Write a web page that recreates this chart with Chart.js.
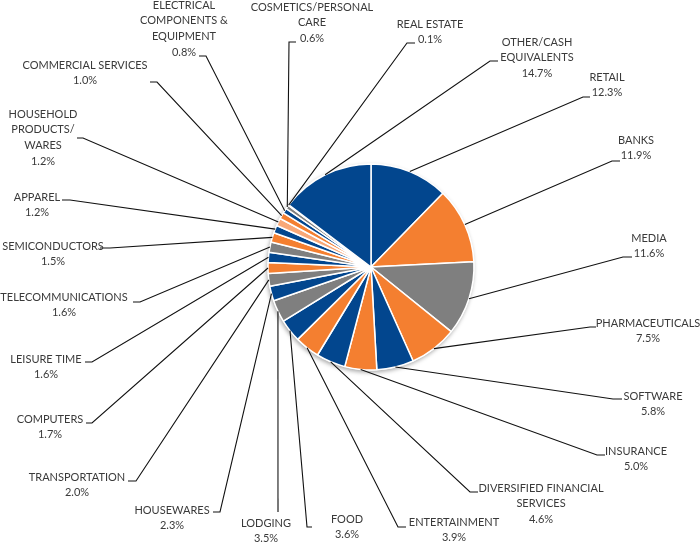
<!DOCTYPE html>
<html><head><meta charset="utf-8">
<script src="https://cdn.jsdelivr.net/npm/chart.js@4/dist/chart.umd.min.js"></script>
<style>html,body{margin:0;padding:0;background:#fff;}canvas{display:block;}</style>
</head><body>
<canvas id="c" width="700" height="543"></canvas>
<script>
// Categories in clockwise order starting at 12 o'clock (multi-line labels as arrays)
const categories = [
  'RETAIL', 'BANKS', 'MEDIA', 'PHARMACEUTICALS', 'SOFTWARE', 'INSURANCE',
  ['DIVERSIFIED FINANCIAL', 'SERVICES'], 'ENTERTAINMENT', 'FOOD', 'LODGING',
  'HOUSEWARES', 'TRANSPORTATION', 'COMPUTERS', 'LEISURE TIME', 'TELECOMMUNICATIONS',
  'SEMICONDUCTORS', 'APPAREL', ['HOUSEHOLD', 'PRODUCTS/', 'WARES'], 'COMMERCIAL SERVICES',
  ['ELECTRICAL', 'COMPONENTS &', 'EQUIPMENT'], ['COSMETICS/PERSONAL', 'CARE'], 'REAL ESTATE',
  ['OTHER/CASH', 'EQUIVALENTS']
];
const percentages = [
  12.3, 11.9, 11.6, 7.5, 5.8, 5.0,
  4.6, 3.9, 3.6, 3.5,
  2.3, 2.0, 1.7, 1.6, 1.6,
  1.5, 1.2, 1.2, 1.0,
  0.8, 0.6, 0.1,
  14.7
];
const valueLabels = percentages.map(v => v.toFixed(1) + '%');

const BLUE = '#02468e', ORANGE = '#f47f30', GRAY = '#7f7f7f', LIGHT = '#f8a878';
const sliceColors = [
  BLUE, ORANGE, GRAY, ORANGE, BLUE, ORANGE,
  BLUE, ORANGE, BLUE, GRAY,
  BLUE, GRAY, ORANGE, BLUE, GRAY,
  ORANGE, BLUE, LIGHT, ORANGE,
  BLUE, GRAY, ORANGE,
  BLUE
];

// Label layout: [text centre x, first line y, elbow x, elbow y, stub end x]
const labelLayout = [
  [607, 77, 583, 97, 590],
  [636, 140, 612, 161, 620],
  [649, 238, 623, 257, 632],
  [648, 323, 590, 327, 596],
  [653, 396, 613, 399, 622],
  [636, 451, 597, 455, 605],
  [541, 488, 470, 492, 478],
  [454, 522, 398, 527, 406],
  [347, 519, 307, 527, 312],
  [266, 523, 278, 512, 278],
  [172, 510, 220, 512, 213],
  [77, 477, 136, 481, 128],
  [50, 419, 92, 423, 86],
  [46, 359, 92, 362, 85],
  [64, 297, 140, 302, 133],
  [53, 246, 110, 248, 100],
  [37, 197, 70, 200, 62],
  [43, 114, 83, 138, 77],
  [85, 65, 157, 82, 150],
  [184, 5, 206, 56, 199],
  [312, 7, 289, 42, 296],
  [430, 24, 407, 43, 415],
  [537, 42, 490, 61, 498]
];

const shadowPlugin = {
  id: 'pieShadow',
  beforeDatasetsDraw(chart) {
    const arc = chart.getDatasetMeta(0).data[0];
    if (!arc) return;
    const {x, y, outerRadius} = arc.getProps(['x', 'y', 'outerRadius'], true);
    const ctx = chart.ctx;
    ctx.save();
    ctx.shadowColor = 'rgba(0,0,0,0.35)';
    ctx.shadowBlur = 4;
    ctx.shadowOffsetX = -1;
    ctx.shadowOffsetY = 2;
    ctx.fillStyle = '#ffffff';
    ctx.beginPath();
    ctx.arc(x, y, outerRadius + 0.5, 0, Math.PI * 2);
    ctx.fill();
    ctx.restore();
  }
};

const labelPlugin = {
  id: 'leaderLabels',
  afterDatasetsDraw(chart) {
    const ctx = chart.ctx;
    const meta = chart.getDatasetMeta(0);
    ctx.save();
    meta.data.forEach((arc, i) => {
      const p = arc.getProps(['x', 'y', 'startAngle', 'endAngle', 'outerRadius'], true);
      const mid = (p.startAngle + p.endAngle) / 2;
      const px = p.x + Math.cos(mid) * p.outerRadius;
      const py = p.y + Math.sin(mid) * p.outerRadius;
      const [tx, ty, ex, ey, sx] = labelLayout[i];
      ctx.strokeStyle = '#111111';
      ctx.lineWidth = 1.1;
      ctx.beginPath();
      ctx.moveTo(px, py);
      ctx.lineTo(ex, ey);
      ctx.lineTo(sx, ey);
      ctx.stroke();
      const name = chart.data.labels[i];
      const lines = (Array.isArray(name) ? name : [name]).concat([valueLabels[i]]);
      ctx.fillStyle = '#3a3a3a';
      ctx.font = '11px Lato';
      ctx.textAlign = 'center';
      ctx.textBaseline = 'middle';
      lines.forEach((t, k) => ctx.fillText(t, tx, ty + k * 15.8));
    });
    ctx.restore();
  }
};

new Chart(document.getElementById('c'), {
  type: 'pie',
  data: {
    labels: categories,
    datasets: [{
      data: percentages,
      backgroundColor: sliceColors,
      borderColor: '#ffffff',
      borderWidth: 1.5,
      radius: 103
    }]
  },
  options: {
    responsive: false,
    animation: false,
    devicePixelRatio: 1,
    layout: { padding: { left: 268, right: 226, top: 164, bottom: 173 } },
    plugins: { legend: { display: false }, tooltip: { enabled: false } }
  },
  plugins: [shadowPlugin, labelPlugin]
});
</script>
</body></html>
